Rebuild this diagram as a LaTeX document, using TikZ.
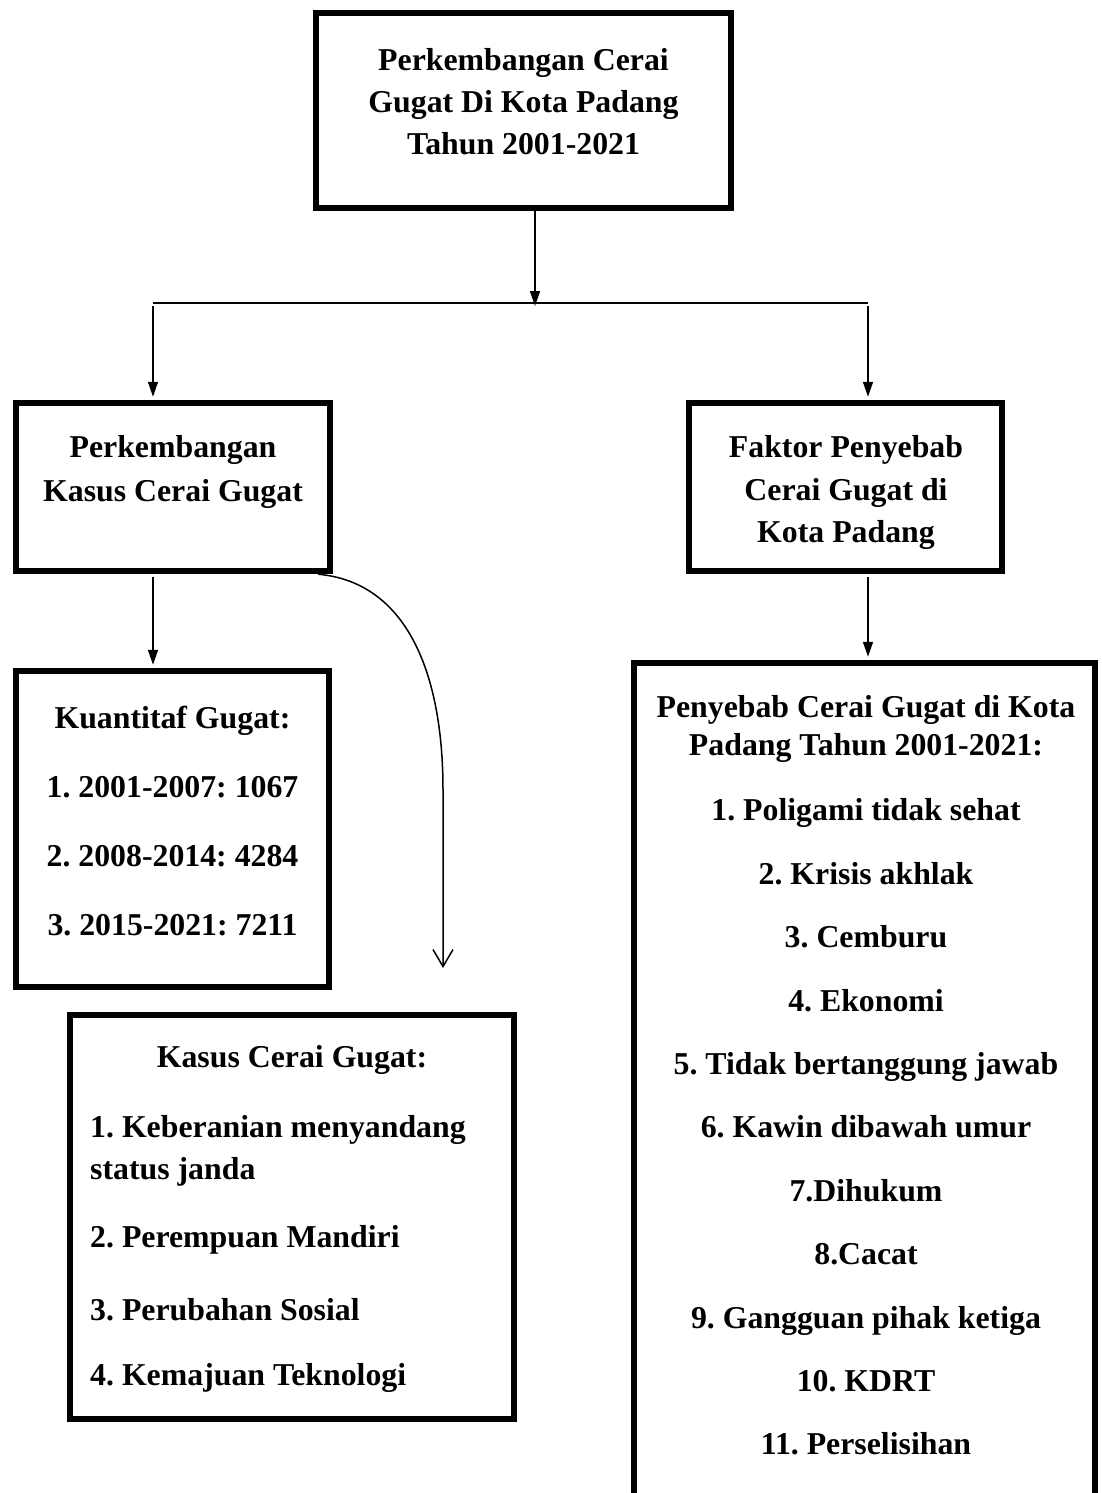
\documentclass[tikz,border=0pt]{standalone}
\usepackage{fontspec}
\setmainfont{Liberation Serif}
\usetikzlibrary{arrows.meta,calc}
\frenchspacing
\begin{document}
\frenchspacing
\begin{tikzpicture}[x=1pt,y=-1pt,
  box/.style={draw,line width=6.5pt,rectangle,inner sep=0pt},
  txt/.style={font=\fontsize{31.8}{42}\selectfont\bfseries,inner sep=0pt,align=center},
  conn/.style={line width=1.5pt,-{Triangle[length=15pt,width=10pt]}},
  bar/.style={line width=2pt}
]
\clip (0,0) rectangle (1102,1493);
\fill[white] (0,0) rectangle (1102,1493);
% boxes
\node[box,minimum width=415,minimum height=195] (top) at (523.5,110.5) {};
\node[box,minimum width=314,minimum height=168] (L2) at (173,487) {};
\node[box,minimum width=313,minimum height=168] (R2) at (845.5,487) {};
\node[box,minimum width=313,minimum height=316] (L3) at (172.5,829) {};
\node[box,minimum width=444,minimum height=404] (L4) at (292,1217) {};
\node[box,minimum width=461,minimum height=937] (R3) at (864.5,1131.5) {};
% texts
\node[txt] (ttop) at (523.5,102) {Perkembangan Cerai\\Gugat Di Kota Padang\\Tahun 2001-2021};
\node[txt,font=\fontsize{31.8}{44}\selectfont\bfseries] (tL2) at (173,472) {Perkembangan\\Kasus Cerai Gugat};
\node[txt,font=\fontsize{31.8}{42.5}\selectfont\bfseries] (tR2) at (846,492.5) {Faktor Penyebab\\Cerai Gugat di\\Kota Padang};
\node[txt,font=\fontsize{31.8}{68.7}\selectfont\bfseries] (tL3) at (172.5,821) {Kuantitaf Gugat:\\1. 2001-2007: 1067\\2. 2008-2014: 4284\\3. 2015-2021: 7211};
\node[txt] (tL4) at (292,1060) {Kasus Cerai Gugat:};
\node[txt,anchor=west] (i1) at (90,1130) {1. Keberanian menyandang};
\node[txt,anchor=west] (i1b) at (90,1172) {status janda};
\node[txt,anchor=west] (i2) at (90,1240) {2. Perempuan Mandiri};
\node[txt,anchor=west] (i3) at (90,1310) {3. Perubahan Sosial};
\node[txt,anchor=west] (i4) at (90,1378) {4. Kemajuan Teknologi};
\node[txt,font=\fontsize{31.8}{38}\selectfont\bfseries] (tR3) at (866,729) {Penyebab Cerai Gugat di Kota\\Padang Tahun 2001-2021:};
\node[txt,font=\fontsize{31.8}{63.4}\selectfont\bfseries] (lR3) at (866,1127) {1. Poligami tidak sehat\\2. Krisis akhlak\\3. Cemburu\\4. Ekonomi\\5. Tidak bertanggung jawab\\6. Kawin dibawah umur\\7.Dihukum\\8.Cacat\\9. Gangguan pihak ketiga\\10. KDRT\\11. Perselisihan};
% connectors
\coordinate (jn) at (535,303);
\coordinate (hl) at (153,303);
\coordinate (hr) at (868,303);
\coordinate (hl2) at (153,306);
\coordinate (hr2) at (868,306);
\draw[bar] (hl) -- (hr);
\draw[conn] (top.south -| jn) -- ($(jn)+(0,3)$);
\draw[conn] (hl2) -- ($(L2.north -| hl2)+(0,-3)$);
\draw[conn] (hr2) -- ($(R2.north -| hr2)+(0,-3)$);
\draw[conn] ($(L2.south -| hl2)+(0,3)$) -- ($(L3.north -| hl2)+(0,-3)$);
\draw[conn] ($(R2.south -| hr2)+(0,3)$) -- ($(R3.north -| hr2)+(0,-3)$);
\coordinate (cs) at ($(L2.south east)+(-15,0)$);
\coordinate (ce) at (443,968);
\draw[line width=1.5pt,-{Straight Barb[length=17pt,width=20pt]}] (cs) .. controls (405,582) and (443,670) .. (443,790) -- (ce);
\end{tikzpicture}
\end{document}
